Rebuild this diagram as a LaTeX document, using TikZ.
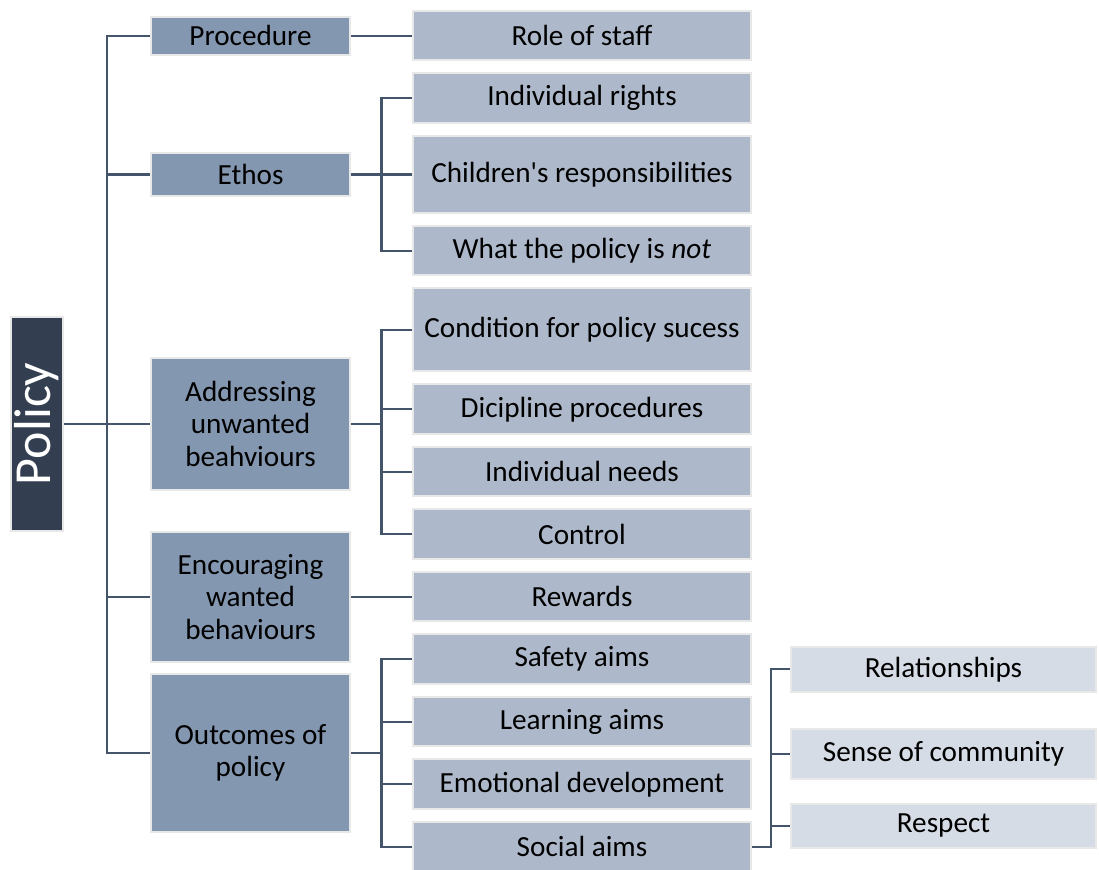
\documentclass[tikz,border=0pt]{standalone}
\usepackage{fontspec}
\setmainfont{Carlito}
\usetikzlibrary{positioning,calc}
\definecolor{policydark}{HTML}{333F50}
\definecolor{headblue}{HTML}{8497B0}
\definecolor{itemblue}{HTML}{ADB9CA}
\definecolor{subblue}{HTML}{D6DCE5}
\definecolor{boxrim}{HTML}{E8E8E8}
\definecolor{linkgray}{HTML}{44546A}
\tikzset{policy node/.style={rectangle,fill=policydark,draw=boxrim,line width=1pt,minimum width=26pt,minimum height=107pt,inner sep=0pt,text=white,font=\fontsize{26}{30}\selectfont},
         head node/.style={rectangle,fill=headblue,draw=boxrim,line width=1pt,minimum width=99.5pt,inner sep=0pt,align=center,font=\fontsize{14.6}{16.3}\selectfont},
         item node/.style={rectangle,fill=itemblue,draw=boxrim,line width=1pt,minimum width=169pt,minimum height=24.75pt,inner sep=0pt,align=center,font=\fontsize{14.6}{16.3}\selectfont},
         sub node/.style={rectangle,fill=subblue,draw=boxrim,line width=1pt,minimum width=152.5pt,inner sep=0pt,align=center,font=\fontsize{14.6}{16.3}\selectfont},
         link/.style={draw=linkgray,line width=1.2pt},
            }

\begin{document}
\begin{tikzpicture}
    \useasboundingbox (0,0) rectangle (549.5pt,-435pt);

    % second column
    \node[item node] (role) at (291pt,-17.875pt) {Role of staff};
    \node[item node] (rights) [below = 5.5pt of role] {Individual rights};
    \node[item node, minimum height=38.5pt] (child) [below = 5.5pt of rights] {Children\textquotesingle s responsibilities};
    \node[item node] (notbox) [below = 5.5pt of child] {What the policy is \textit{not}};
    \node[item node, minimum height=41.5pt] (cond) [below = 5.5pt of notbox] {Condition for policy sucess};
    \node[item node] (disc) [below = 5.5pt of cond] {Dicipline procedures};
    \node[item node] (need) [below = 5.5pt of disc] {Individual needs};
    \node[item node] (ctrl) [below = 5.5pt of need] {Control};
    \node[item node] (rew) [below = 5.5pt of ctrl] {Rewards};
    \node[item node] (safe) [below = 5.5pt of rew] {Safety aims};
    \node[item node] (learn) [below = 5.5pt of safe] {Learning aims};
    \node[item node] (emo) [below = 5.5pt of learn] {Emotional development};
    \node[item node] (social) [below = 5.5pt of emo] {Social aims};

    % first column
    \node[head node, minimum height=19pt] (proc) [left = 30.5pt of role] {Procedure};
    \node[head node, minimum height=21.5pt] (ethos) [left = 30.5pt of child] {Ethos};
    \node[head node, minimum height=65pt] (enc) [left = 30.5pt of rew] {Encouraging\\wanted\\behaviours};
    \node[head node, minimum height=66pt] (addr) [above = 20pt of enc] {Addressing\\unwanted\\beahviours};
    \node[head node, minimum height=79pt] (outc) [below = 5pt of enc] {Outcomes of\\policy};

    \node[policy node] (policy) [left = 43pt of addr] {\rotatebox{90}{Policy}};

    % third column
    \node[sub node, minimum height=25pt, anchor=west] (sense) at ([xshift=19pt,yshift=-16pt]learn.east) {Sense of community};
    \node[sub node, minimum height=22.5pt] (rel) [above = 17.5pt of sense] {Relationships};
    \node[sub node, minimum height=22pt] (resp) [below = 11.5pt of sense] {Respect};

    \coordinate (spine) at ($(policy.east)!.5!(addr.west)$);
    \coordinate (ebar) at ($(ethos.east)!.5!(child.west)$);
    \coordinate (abar) at ($(addr.east)!.5!(disc.west)$);
    \coordinate (obar) at ($(outc.east)!.5!(learn.west)$);
    \coordinate (sbar) at ($(social.east)!.5!(sense.west)$);

    \draw[link] (policy.east) -- (addr.west);
    \draw[link] (proc.west) -| (spine) |- (outc.west);
    \path[link]
    (ethos.west) edge (ethos.west -| spine)
    (enc.west) edge (enc.west -| spine)
    (proc.east) edge (role.west)
    (enc.east) edge (rew.west)
    (ethos.east) edge (child.west);
    %%
    \draw[link] (rights.west) -| (ebar) |- (notbox.west);
    \draw[link] (cond.west) -| (abar) |- (ctrl.west);
    \path[link]
    (addr.east) edge (addr.east -| abar)
    (disc.west) edge (disc.west -| abar)
    (need.west) edge (need.west -| abar);
    \draw[link] (safe.west) -| (obar) |- (social.west);
    \path[link]
    (outc.east) edge (outc.east -| obar)
    (learn.west) edge (learn.west -| obar)
    (emo.west) edge (emo.west -| obar);
    \draw[link] (rel.west) -| (sbar) |- (social.east);
    \path[link]
    (sense.west) edge (sense.west -| sbar)
    (resp.west) edge (resp.west -| sbar);
\end{tikzpicture}
\end{document}
